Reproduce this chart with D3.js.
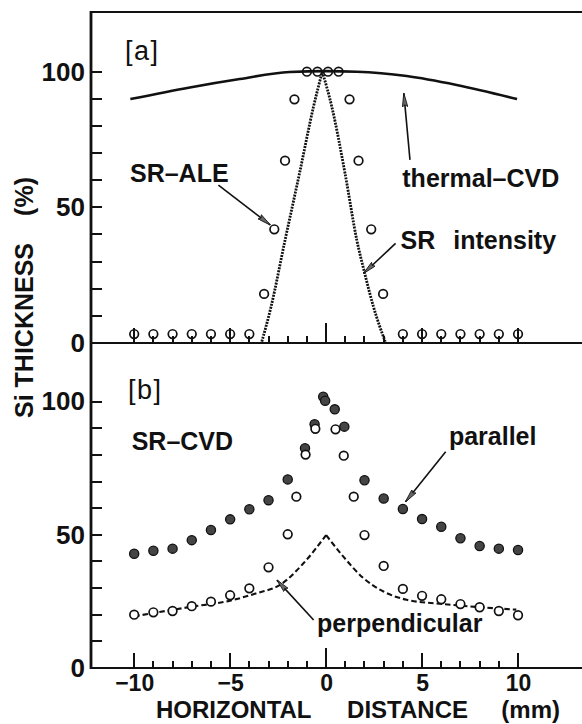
<!DOCTYPE html>
<html>
<head>
<meta charset="utf-8">
<script src="https://cdn.jsdelivr.net/npm/d3@7"></script>
<style>
  html, body { margin: 0; padding: 0; background: #fff; }
  svg { display: block; }
  text { font-family: "Liberation Sans", Arial, Helvetica, sans-serif; fill: #111; }
</style>
</head>
<body>
<svg id="chart" width="582" height="724"></svg>
<script>
// ---------- data ----------
// [a] thermal-CVD thickness profile (solid line)
const thermalX = [-10.2, -7.1, -4.5, -1.9, 0, 1.6, 4.2, 6.8, 9.95];
const thermalY = [89.9, 94.2, 97.3, 99.9, 100.2, 100, 98.4, 95.1, 89.9];

// [a] SR intensity profile (dotted line)
const srIntX = [-3.35, -2.87, -2.14, -1.39, -0.66, -0.2, 0.3, 0.99, 1.6, 2.0, 2.47, 3.08];
const srIntY = [0.5, 13.3, 37.9, 62.4, 87, 100, 87, 62.4, 37.9, 26, 13.3, 0.5];

// [a] SR-ALE thickness (open circles)
const aleX = [-10, -9, -8, -7, -6, -5, -4, -3.23, -2.7, -2.14, -1.65, -1.0, -0.45, 0.1, 0.65,
              1.22, 1.69, 2.35, 2.97, 4, 5, 6, 7, 8, 9, 10];
const aleY = [3.3, 3.3, 3.3, 3.3, 3.3, 3.3, 3.3, 18.1, 41.9, 67.2, 89.8, 100, 100, 100, 100,
              89.8, 67.2, 41.9, 18.1, 3.3, 3.3, 3.3, 3.3, 3.3, 3.3, 3.3];

// [b] SR-CVD, parallel (filled circles)
const parX = [-10, -9, -8, -7, -6, -5, -4, -3, -2, -1.1, -0.6, -0.15, -0.05, 0.45, 0.95,
              2, 3, 4, 5, 6, 7, 8, 9, 10];
const parY = [42.9, 44.0, 44.8, 48.0, 51.8, 55.8, 59.6, 63.0, 70.8, 82.5, 91.5, 101.8, 100.3, 97.1, 90.6,
              70.5, 63.6, 59.7, 55.9, 53.0, 48.7, 45.8, 44.8, 44.3];

// [b] SR-CVD, perpendicular (open circles)
const perpX = [-10, -9, -8, -7, -6, -5, -4, -3, -2, -1.55, -1.07, -0.56, 0.49, 0.92, 1.44,
               2, 3, 4, 5, 6, 7, 8, 9, 10];
const perpY = [20.0, 20.9, 21.4, 23.2, 24.9, 27.3, 29.9, 37.8, 50.2, 64.3, 80.1, 89.8, 89.6, 79.7, 64.3,
               49.9, 38.3, 29.7, 27.1, 25.8, 24.0, 22.8, 21.4, 19.8];

// [b] perpendicular profile (dashed line)
const fitX = [-10, -7.1, -5.0, -3.6, -2.4, -1.18, 0, 0.9, 1.95, 2.99, 4.2, 5.95, 7.86, 9.91];
const fitY = [19.4, 22.9, 25.3, 28.1, 31.2, 39.3, 49.9, 41.8, 33.7, 28.7, 25.6, 24.1, 22.9, 21.9];

// tick values and labels
const xTickValues = d3.range(-10, 11, 1);
const xTickLabels = [-10, -5, 0, 5, 10];
const yTickValues = d3.range(10, 101, 10);
const yTickLabels = [0, 50, 100];

// ---------- layout ----------
const W = 582, H = 724;
const plotLeft = 91, plotRight = 590, plotTop = 12, plotMid = 343, plotBottom = 668;

const svg = d3.select("#chart");

const x = d3.scaleLinear().domain([-12.25, 13.75]).range([plotLeft, plotRight]);
const ya = d3.scaleLinear().domain([0, 122]).range([plotMid, plotTop]);
const yb = d3.scaleLinear().domain([0, 122]).range([plotBottom, plotMid]);

const zip = (a, b) => a.map((v, i) => [v, b[i]]);

// arrowhead
svg.append("defs").append("marker")
  .attr("id", "head")
  .attr("viewBox", "0 0 14 6")
  .attr("refX", 13.5).attr("refY", 3)
  .attr("markerWidth", 14).attr("markerHeight", 6)
  .attr("markerUnits", "userSpaceOnUse")
  .attr("orient", "auto")
  .append("path")
  .attr("d", "M0,0.3 L14,3 L0,5.7 L2,3 Z")
  .attr("fill", "#666").attr("stroke", "#111").attr("stroke-width", 0.8);

// ---------- axes ----------
// tick labels through d3 axes; tick marks drawn inward as pixel-aligned bars
function yAxis(scale) {
  const g = svg.append("g")
    .attr("transform", `translate(${plotLeft},0)`)
    .call(d3.axisLeft(scale)
      .tickValues(yTickLabels)
      .tickSize(0).tickPadding(6));
  g.select(".domain").remove();
  g.selectAll(".tick line").remove();
  g.attr("font-family", null).attr("font-size", null);
  g.selectAll(".tick text").attr("font-size", 26).attr("font-weight", "bold").attr("fill", "#111");

  svg.append("g").selectAll("rect")
    .data(yTickValues).join("rect")
    .attr("x", plotLeft).attr("width", 11)
    .attr("y", d => Math.round(scale(d)) - 1).attr("height", 2)
    .attr("fill", "#111");
}

function xAxis(scaleY, withLabels) {
  const y0 = scaleY(0);
  const len = d => (d === 0 ? 20 : (d % 5 === 0 ? 15 : 7));
  if (withLabels) {
    const g = svg.append("g")
      .attr("transform", `translate(0,${y0})`)
      .call(d3.axisBottom(x)
        .tickValues(xTickLabels)
        .tickSize(0).tickPadding(7)
        .tickFormat(d3.format("d")));
    g.select(".domain").remove();
    g.selectAll(".tick line").remove();
    g.attr("font-family", null).attr("font-size", null);
    g.selectAll(".tick text").attr("font-size", 23).attr("font-weight", "bold").attr("fill", "#111");
  }
  svg.append("g").selectAll("rect")
    .data(xTickValues).join("rect")
    .attr("x", d => Math.round(x(d)) - 1).attr("width", 2)
    .attr("y", d => y0 - len(d))
    .attr("height", len)
    .attr("fill", "#111");
}

yAxis(ya);
yAxis(yb);
xAxis(ya, false);
xAxis(yb, true);

// frame
const frame = svg.append("g").attr("stroke", "#111").attr("fill", "none");
frame.append("line").attr("x1", plotLeft).attr("x2", plotLeft).attr("y1", plotTop - 1).attr("y2", plotBottom + 1).attr("stroke-width", 2.8);
[plotTop, plotMid, plotBottom].forEach(yy => {
  frame.append("line").attr("x1", plotLeft).attr("x2", W).attr("y1", yy).attr("y2", yy).attr("stroke-width", 2.2);
});

// ---------- panel [a] ----------
const lineA = d3.line().x(d => x(d[0])).y(d => ya(d[1])).curve(d3.curveMonotoneX);
const lineB = d3.line().x(d => x(d[0])).y(d => yb(d[1])).curve(d3.curveMonotoneX);

// split a peaked profile into its two monotone flanks
function flanks(pts) {
  const k = d3.maxIndex(pts, d => d[1]);
  return [pts.slice(0, k + 1), pts.slice(k)];
}

svg.append("path")
  .attr("d", lineA(zip(thermalX, thermalY)))
  .attr("fill", "none").attr("stroke", "#111").attr("stroke-width", 2.6);

flanks(zip(srIntX, srIntY)).forEach(p => {
  svg.append("path")
    .attr("d", lineA(p))
    .attr("fill", "none").attr("stroke", "#111")
    .attr("stroke-width", 2.8).attr("stroke-dasharray", "2,1.1");
});

svg.append("g").selectAll("circle")
  .data(zip(aleX, aleY)).join("circle")
  .attr("cx", d => x(d[0])).attr("cy", d => ya(d[1])).attr("r", 4.3)
  .attr("fill", "none").attr("stroke", "#111").attr("stroke-width", 1.7);

// ---------- panel [b] ----------
flanks(zip(fitX, fitY)).forEach(p => {
  svg.append("path")
    .attr("d", lineB(p))
    .attr("fill", "none").attr("stroke", "#111")
    .attr("stroke-width", 2.1).attr("stroke-dasharray", "5.5,3");
});

svg.append("g").selectAll("circle")
  .data(zip(parX, parY)).join("circle")
  .attr("cx", d => x(d[0])).attr("cy", d => yb(d[1])).attr("r", 4.6)
  .attr("fill", "#444").attr("stroke", "#111").attr("stroke-width", 1.3);

svg.append("g").selectAll("circle")
  .data(zip(perpX, perpY)).join("circle")
  .attr("cx", d => x(d[0])).attr("cy", d => yb(d[1])).attr("r", 4.3)
  .attr("fill", "#fff").attr("stroke", "#111").attr("stroke-width", 1.7);

// ---------- annotations ----------
const arrows = [
  { y: ya, x1: -5.61, y1: 58.2, x2: -2.91, y2: 43.5 },   // SR-ALE
  { y: ya, x1: 4.37,  y1: 67.5, x2: 4.05,  y2: 92.0 },   // thermal-CVD
  { y: ya, x1: 3.62,  y1: 36.7, x2: 1.96,  y2: 25.7 },   // SR intensity
  { y: yb, x1: 6.23,  y1: 81.2, x2: 4.14,  y2: 62.4 },   // parallel
  { y: yb, x1: -0.65, y1: 18.0, x2: -2.56, y2: 33.0 }    // perpendicular
];
arrows.forEach(a => {
  svg.append("line")
    .attr("x1", x(a.x1)).attr("y1", a.y(a.y1))
    .attr("x2", x(a.x2)).attr("y2", a.y(a.y2))
    .attr("stroke", "#111").attr("stroke-width", 1.6)
    .attr("marker-end", "url(#head)");
});

const labels = [
  { y: ya, x0: -10.22, y0: 59.3, text: "SR\u2013ALE" },
  { y: ya, x0: 3.97,   y0: 57.4, text: "thermal\u2013CVD" },
  { y: yb, x0: -10.13, y0: 81.8, text: "SR\u2013CVD" },
  { y: yb, x0: 6.4,    y0: 83.7, text: "parallel" },
  { y: yb, x0: -0.47,  y0: 13.5, text: "perpendicular" }
];
labels.forEach(l => {
  svg.append("text")
    .attr("x", x(l.x0)).attr("y", l.y(l.y0))
    .attr("font-size", 25).attr("font-weight", "bold")
    .text(l.text);
});

// "SR  intensity" with its wide word gap
const srLab = svg.append("text")
  .attr("x", x(3.88)).attr("y", ya(34.6))
  .attr("font-size", 25).attr("font-weight", "bold");
srLab.append("tspan").text("SR");
srLab.append("tspan").attr("dx", 18).text("intensity");

// panel tags
svg.append("text").attr("x", x(-10.48)).attr("y", ya(104.3))
  .attr("font-size", 27).attr("letter-spacing", 1.5).text("[a]");
svg.append("text").attr("x", x(-10.32)).attr("y", yb(101))
  .attr("font-size", 27).attr("letter-spacing", 1.5).text("[b]");

// axis titles
const xTitle = svg.append("g").attr("font-size", 24).attr("font-weight", "bold");
xTitle.append("text").attr("x", 156).attr("y", 718).text("HORIZONTAL");
xTitle.append("text").attr("x", 468).attr("y", 718).attr("text-anchor", "end").text("DISTANCE");
xTitle.append("text").attr("x", 560).attr("y", 718).attr("text-anchor", "end").text("(mm)");

svg.append("text").attr("transform", "translate(33,418) rotate(-90)")
  .attr("font-size", 25).attr("font-weight", "bold").text("Si THICKNESS");
svg.append("text").attr("transform", "translate(33,177) rotate(-90)")
  .attr("text-anchor", "end")
  .attr("font-size", 25).attr("font-weight", "bold").text("(%)");
</script>
</body>
</html>
